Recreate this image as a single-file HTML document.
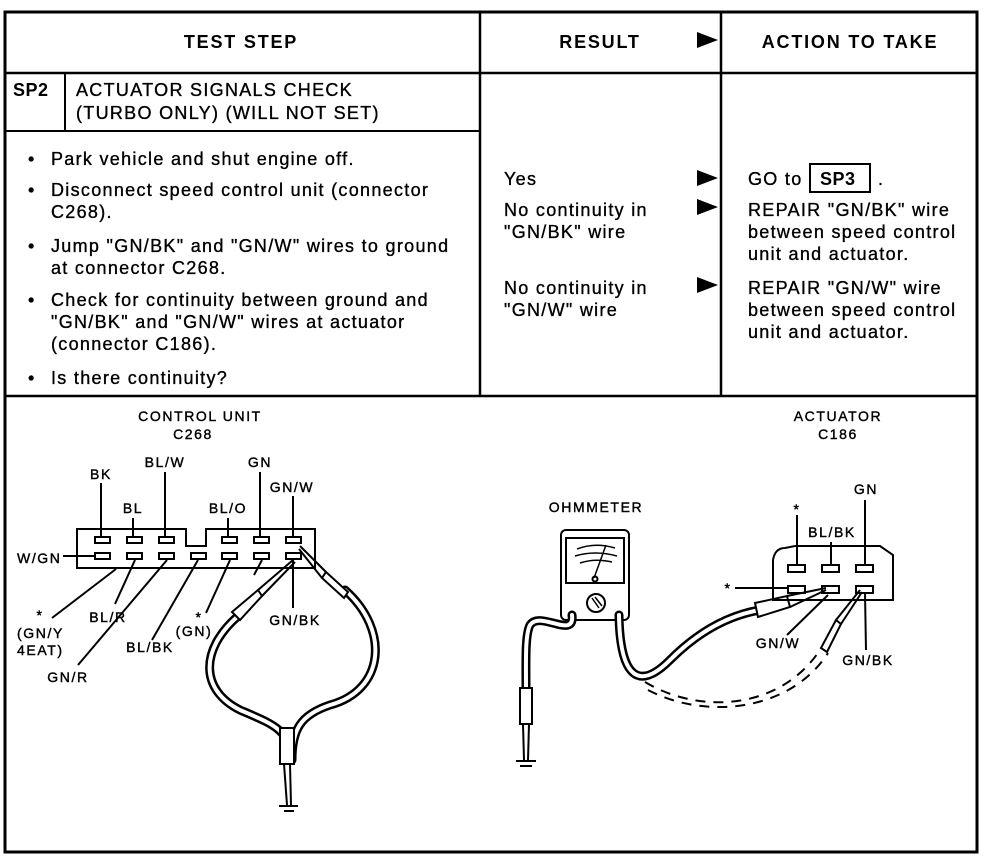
<!DOCTYPE html>
<html><head><meta charset="utf-8"><style>
html,body{margin:0;padding:0;background:#fff;}
svg{display:block;font-family:"Liberation Sans",Arial,sans-serif;}
.b{font-weight:bold}
.t{font-size:18px;letter-spacing:1.3px;stroke:#000;stroke-width:0.35px}
.h{font-size:18px;letter-spacing:1.8px;font-weight:bold}
.l{font-size:14px;letter-spacing:1.6px;stroke:#000;stroke-width:0.4px}
</style></head><body>
<svg width="1008" height="866" viewBox="0 0 1008 866" xmlns="http://www.w3.org/2000/svg">
<g fill="none" stroke="#000">
 <rect x="5" y="12" width="972" height="840" stroke-width="3"/>
 <line x1="5" y1="73" x2="977" y2="73" stroke-width="2.5"/>
 <line x1="5" y1="131" x2="480" y2="131" stroke-width="2"/>
 <line x1="65" y1="73" x2="65" y2="131" stroke-width="2"/>
 <line x1="480" y1="12" x2="480" y2="396" stroke-width="2.5"/>
 <line x1="721" y1="12" x2="721" y2="396" stroke-width="2.5"/>
 <line x1="5" y1="396" x2="977" y2="396" stroke-width="2.5"/>
 <rect x="810" y="164" width="60" height="28" stroke-width="2"/>
</g>
<g fill="#000">
 <polygon points="697,32 697,48 718,40"/>
 <polygon points="697,170 697,186 718,178"/>
 <polygon points="697,199 697,215 718,207"/>
 <polygon points="697,277 697,293 718,285"/>
</g>
<g fill="#000">
 <text x="241" y="48" text-anchor="middle" class="h">TEST STEP</text>
 <text x="600" y="48" text-anchor="middle" class="h">RESULT</text>
 <text x="850" y="48" text-anchor="middle" class="h">ACTION TO TAKE</text>
 <text x="13" y="96" class="h" style="letter-spacing:0.5px">SP2</text>
 <g class="t">
 <text x="76" y="96">ACTUATOR SIGNALS CHECK</text>
 <text x="76" y="119">(TURBO ONLY) (WILL NOT SET)</text>
 <text x="28" y="165">•</text><text x="51" y="165">Park vehicle and shut engine off.</text>
 <text x="28" y="196">•</text><text x="51" y="196">Disconnect speed control unit (connector</text>
 <text x="51" y="218">C268).</text>
 <text x="28" y="252">•</text><text x="51" y="252">Jump "GN/BK" and "GN/W" wires to ground</text>
 <text x="51" y="274">at connector C268.</text>
 <text x="28" y="306">•</text><text x="51" y="306">Check for continuity between ground and</text>
 <text x="51" y="328">"GN/BK" and "GN/W" wires at actuator</text>
 <text x="51" y="350">(connector C186).</text>
 <text x="28" y="384">•</text><text x="51" y="384">Is there continuity?</text>
 <text x="504" y="185">Yes</text>
 <text x="504" y="216">No continuity in</text>
 <text x="504" y="238">"GN/BK" wire</text>
 <text x="504" y="294">No continuity in</text>
 <text x="504" y="316">"GN/W" wire</text>
 <text x="748" y="185">GO to</text>
 <text x="878" y="185">.</text>
 <text x="748" y="216">REPAIR "GN/BK" wire</text>
 <text x="748" y="238">between speed control</text>
 <text x="748" y="260">unit and actuator.</text>
 <text x="748" y="294">REPAIR "GN/W" wire</text>
 <text x="748" y="316">between speed control</text>
 <text x="748" y="338">unit and actuator.</text>
 </g>
 <text x="820" y="185" class="h" style="letter-spacing:0.5px">SP3</text>
</g>
<g fill="#000" class="l">
 <text x="200" y="421" text-anchor="middle">CONTROL UNIT</text>
 <text x="193" y="439" text-anchor="middle">C268</text>
 <text x="101" y="479" text-anchor="middle">BK</text>
 <text x="165" y="467" text-anchor="middle">BL/W</text>
 <text x="260" y="467" text-anchor="middle">GN</text>
 <text x="292" y="492" text-anchor="middle">GN/W</text>
 <text x="133" y="513" text-anchor="middle">BL</text>
 <text x="228" y="513" text-anchor="middle">BL/O</text>
 <text x="17" y="563">W/GN</text>
 <text x="108" y="622" text-anchor="middle">BL/R</text>
 <text x="40" y="620" text-anchor="middle">*</text>
 <text x="17" y="638">(GN/Y</text>
 <text x="17" y="655">4EAT)</text>
 <text x="68" y="682" text-anchor="middle">GN/R</text>
 <text x="150" y="652" text-anchor="middle">BL/BK</text>
 <text x="199" y="622" text-anchor="middle">*</text>
 <text x="194" y="636" text-anchor="middle">(GN)</text>
 <text x="295" y="625" text-anchor="middle">GN/BK</text>
 <text x="838" y="421" text-anchor="middle">ACTUATOR</text>
 <text x="838" y="439" text-anchor="middle">C186</text>
 <text x="596" y="512" text-anchor="middle">OHMMETER</text>
 <text x="866" y="494" text-anchor="middle">GN</text>
 <text x="797" y="514" text-anchor="middle">*</text>
 <text x="832" y="537" text-anchor="middle">BL/BK</text>
 <text x="728" y="593" text-anchor="middle">*</text>
 <text x="778" y="648" text-anchor="middle">GN/W</text>
 <text x="868" y="665" text-anchor="middle">GN/BK</text>
</g>
<g fill="none" stroke="#000" stroke-width="2">
 <path d="M77,529 H186 V546 H206 V529 H315 V568 H77 Z"/>
 <rect x="95" y="537" width="15" height="6"/><rect x="127" y="537" width="15" height="6"/><rect x="159" y="537" width="15" height="6"/>
 <rect x="222" y="537" width="15" height="6"/><rect x="254" y="537" width="15" height="6"/><rect x="286" y="537" width="15" height="6"/>
 <rect x="95" y="553" width="15" height="6"/><rect x="127" y="553" width="15" height="6"/><rect x="159" y="553" width="15" height="6"/><rect x="191" y="553" width="15" height="6"/><rect x="222" y="553" width="15" height="6"/><rect x="254" y="553" width="15" height="6"/><rect x="286" y="553" width="15" height="6"/>
 <line x1="101" y1="483" x2="101" y2="537"/>
 <line x1="133" y1="518" x2="133" y2="537"/>
 <line x1="165" y1="472" x2="165" y2="537"/>
 <line x1="228" y1="518" x2="228" y2="537"/>
 <line x1="260" y1="472" x2="260" y2="537"/>
 <line x1="293" y1="496" x2="293" y2="537"/>
 <line x1="63" y1="556" x2="95" y2="556"/>
 <line x1="116" y1="569" x2="52" y2="618"/>
 <line x1="135" y1="560" x2="115" y2="604"/>
 <line x1="167" y1="560" x2="78" y2="665"/>
 <line x1="198" y1="560" x2="152" y2="640"/>
 <line x1="230" y1="560" x2="206" y2="613"/>
 <line x1="262" y1="560" x2="254" y2="575"/>
 <line x1="293" y1="560" x2="293" y2="608"/>
</g>
<g fill="none" stroke-linecap="round">
 <path d="M237,617 C200,650 200,690 240,710 C275,725 290,730 290,760" stroke="#000" stroke-width="9"/>
 <path d="M237,617 C200,650 200,690 240,710 C275,725 290,730 290,760" stroke="#fff" stroke-width="4"/>
 <path d="M345,590 C390,630 385,690 330,705 C300,715 292,730 292,760" stroke="#000" stroke-width="9"/>
 <path d="M345,590 C390,630 385,690 330,705 C300,715 292,730 292,760" stroke="#fff" stroke-width="4"/>
</g>
<g stroke="#000" stroke-width="2" fill="#fff">
 <polygon points="232,612 258,590 262,596 240,620"/>
 <polygon points="326,572 348,592 344,598 322,578"/>
 <rect x="280" y="728" width="14" height="36"/>
</g>
<g stroke="#000" stroke-width="2" fill="none">
 <line x1="258" y1="590" x2="293" y2="560"/><line x1="262" y1="596" x2="295" y2="562"/>
 <line x1="326" y1="572" x2="300" y2="546"/><line x1="322" y1="578" x2="299" y2="549"/>
 <line x1="284" y1="764" x2="287" y2="805"/><line x1="290" y1="764" x2="291" y2="805"/>
 <line x1="279" y1="806" x2="298" y2="806"/><line x1="284" y1="811" x2="294" y2="811"/>
</g>
<g stroke="#000" stroke-width="2" fill="#fff">
 <rect x="561" y="530" width="68" height="90" rx="5"/>
 <rect x="566" y="538" width="58" height="45"/>
 <circle cx="596" cy="603" r="9"/>
 <circle cx="595" cy="579" r="2.5"/>
</g>
<g stroke="#000" stroke-width="1.5" fill="none">
 <path d="M577,549 Q595,542 615,548"/><path d="M575,556 Q595,550 617,556"/><path d="M580,563 Q595,558 612,562"/>
 <line x1="594" y1="578" x2="606" y2="545"/>
 <line x1="592" y1="598" x2="599" y2="608"/><line x1="595" y1="597" x2="602" y2="606"/>
</g>
<g fill="none" stroke-linecap="round">
 <path d="M572,615 C575,640 540,610 530,625 C525,635 526,660 526,690" stroke="#000" stroke-width="9"/>
 <path d="M572,615 C575,640 540,610 530,625 C525,635 526,660 526,690" stroke="#fff" stroke-width="4"/>
 <path d="M619,615 C620,680 640,690 670,660 C700,630 730,615 760,610" stroke="#000" stroke-width="9"/>
 <path d="M619,615 C620,680 640,690 670,660 C700,630 730,615 760,610" stroke="#fff" stroke-width="4"/>
</g>
<path d="M645,682 C700,715 780,710 820,650" fill="none" stroke="#000" stroke-width="2" stroke-dasharray="10,8"/>
<path d="M648,690 C705,720 790,712 828,653" fill="none" stroke="#000" stroke-width="2" stroke-dasharray="10,8"/>
<g stroke="#000" stroke-width="2" fill="#fff">
 <rect x="520" y="688" width="12" height="36"/>
 <polygon points="755,603 787,596 790,607 758,617"/>
 <polygon points="821,648 836,620 841,624 827,652"/>
</g>
<g stroke="#000" stroke-width="2" fill="none">
 <line x1="523" y1="724" x2="524" y2="760"/><line x1="529" y1="724" x2="528" y2="760"/>
 <line x1="516" y1="761" x2="536" y2="761"/><line x1="520" y1="766" x2="532" y2="766"/>
 <line x1="787" y1="596" x2="826" y2="588"/><line x1="790" y1="607" x2="826" y2="590"/>
 <line x1="836" y1="620" x2="860" y2="590"/><line x1="841" y1="624" x2="862" y2="592"/>
</g>
<g stroke="#000" stroke-width="2" fill="none">
 <path d="M773,600 V560 Q775,548 785,548 L795,546 H880 L893,555 V600 Z"/>
 <rect x="788" y="565" width="17" height="7"/><rect x="822" y="565" width="17" height="7"/><rect x="856" y="565" width="17" height="7"/>
 <rect x="788" y="586" width="17" height="7"/><rect x="822" y="586" width="17" height="7"/><rect x="856" y="586" width="17" height="7"/>
 <line x1="797" y1="515" x2="797" y2="565"/>
 <line x1="831" y1="542" x2="831" y2="565"/>
 <line x1="865" y1="500" x2="865" y2="565"/>
 <line x1="735" y1="588" x2="788" y2="588"/>
 <line x1="828" y1="595" x2="787" y2="635"/>
 <line x1="865" y1="593" x2="866" y2="650"/>
</g>
</svg>
</body></html>
